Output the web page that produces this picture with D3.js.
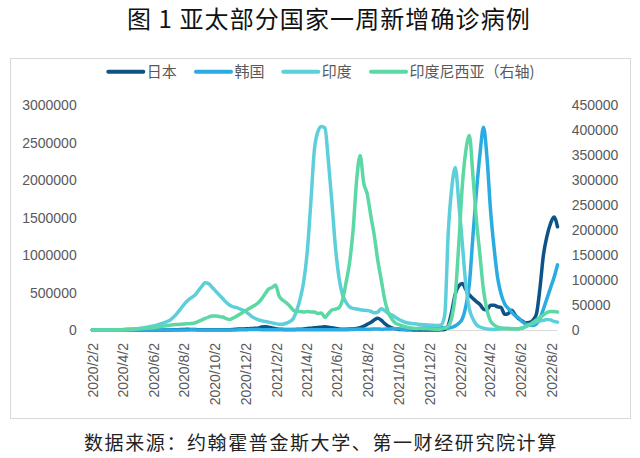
<!DOCTYPE html>
<html><head><meta charset="utf-8">
<script src="https://cdn.jsdelivr.net/npm/d3@7"></script>
<style>body{margin:0;background:#fff}</style>
</head><body>
<svg id="c" width="640" height="458" xmlns="http://www.w3.org/2000/svg"></svg>
<script>
// ---------- data ----------
const titleText = "图 1 亚太部分国家一周新增确诊病例";
const sourceText = "数据来源：约翰霍普金斯大学、第一财经研究院计算";
const seriesNames = ["日本", "韩国", "印度", "印度尼西亚（右轴)"];
const firstWeek = "2020/2/2"; // weekly data, one value per week
const tickLabels = ["2020/2/2","2020/4/2","2020/6/2","2020/8/2","2020/10/2","2020/12/2",
  "2021/2/2","2021/4/2","2021/6/2","2021/8/2","2021/10/2","2021/12/2",
  "2022/2/2","2022/4/2","2022/6/2","2022/8/2"];
const leftTicks = [0,500000,1000000,1500000,2000000,2500000,3000000];
const rightTicks = [0,50000,100000,150000,200000,250000,300000,350000,400000,450000];

const japan = [0,10,30,60,150,250,300,400,800,2000,3500,2800,1500,800,400,250,200,200,250,350,
  500,800,1300,2500,4000,5500,8000,8500,7500,6000,4500,3800,3500,3500,3800,3800,4000,4000,4500,5000,
  7500,11000,14000,15000,17000,19000,22000,25000,40000,45000,38000,28000,17000,11000,8500,7000,7000,8000,8500,10000,
  14000,19000,25000,30000,35000,37000,42000,38000,30000,21000,14000,11000,11000,12000,15000,21000,30000,50000,75000,100000,
  135000,156000,130000,85000,50000,28000,15000,8000,5000,3000,2000,1500,1300,1000,900,800,800,900,1200,2500,
  6000,60000,250000,480000,590000,620000,540000,470000,420000,380000,340000,280000,270000,330000,330000,310000,300000,210000,220000,265000,
  200000,150000,120000,95000,100000,130000,210000,550000,1000000,1250000,1420000,1510000,1380000];
const korea = [100,200,1000,3500,4000,1800,700,600,500,300,150,80,60,100,200,150,250,300,300,300,
  350,400,300,300,350,300,350,700,2000,2000,1300,900,700,500,500,500,500,600,700,800,
  900,1500,2500,3500,4500,6500,7500,7000,5000,4000,3000,3200,3000,2800,3200,2800,2700,3000,3000,3000,
  3400,4500,4500,4500,4500,3900,4200,4200,3800,3800,3800,3500,3500,5500,8000,9000,9500,10000,10000,11000,
  13000,12500,11000,12000,12000,16000,18000,15000,11000,10500,12000,16000,17000,22000,26000,32000,42000,48000,42000,35000,
  25000,25000,35000,55000,90000,150000,320000,620000,1250000,1850000,2350000,2710000,2300000,1600000,1100000,700000,480000,350000,290000,240000,
  190000,160000,110000,80000,65000,60000,80000,150000,280000,420000,560000,700000,870000];
const india = [0,0,0,0,30,40,80,400,1000,3000,5000,8000,11000,17000,25000,33000,42000,52000,62000,75000,
  90000,110000,130000,170000,220000,280000,340000,390000,430000,460000,520000,580000,630000,620000,570000,520000,470000,420000,370000,330000,
  310000,300000,280000,260000,230000,190000,160000,140000,125000,115000,105000,95000,85000,76000,78000,90000,110000,150000,260000,420000,
  650000,1050000,1700000,2400000,2650000,2720000,2700000,2250000,1700000,1100000,700000,470000,370000,310000,290000,280000,270000,265000,260000,250000,
  230000,240000,285000,260000,220000,200000,170000,140000,120000,100000,90000,85000,80000,75000,70000,68000,65000,62000,60000,70000,
  200000,1300000,1900000,2170000,1700000,1150000,600000,280000,150000,70000,40000,25000,15000,10000,8000,12000,17000,22000,22000,18000,
  16000,18000,25000,45000,75000,85000,110000,120000,130000,140000,135000,115000,105000];
const indonesia = [0,0,0,0,10,50,100,400,700,1300,2000,2000,2400,2500,2800,3500,3800,4200,5500,6500,
  7500,8500,9500,10500,11000,11500,12000,12500,13000,14000,17000,20000,23000,26000,28000,28000,27000,26000,23000,21000,
  24000,28000,32000,37000,41000,45000,49000,54000,62000,72000,82000,85000,90000,68000,60000,55000,48000,40000,37000,37000,
  36000,37000,36000,36000,33000,34000,25000,33000,40000,42000,45000,60000,95000,135000,200000,300000,350000,295000,273000,230000,
  190000,140000,100000,60000,35000,22000,14000,11000,8000,6000,4500,3500,3000,2800,2500,2300,2000,1500,1500,2000,
  4000,8000,25000,70000,173000,290000,360000,390000,310000,220000,150000,80000,40000,18000,10000,6000,4000,2500,2500,2000,
  2000,2500,4000,7000,10000,15000,20000,25000,30000,35000,37000,37000,36000];

const colors = ["#0e5386", "#2aabe2", "#5ccfdb", "#5cd8a4"];

// ---------- chart ----------
const svg = d3.select("#c");
svg.append("rect").attr("width",640).attr("height",458).attr("fill","#fff");
svg.append("rect").attr("x",10.5).attr("y",58.5).attr("width",620).attr("height",360)
  .attr("fill","none").attr("stroke","#d9d9d9").attr("stroke-width",1);

const parse = d3.timeParse("%Y/%m/%d");
const start = parse(firstWeek);
const dates = india.map((_, i) => d3.timeDay.offset(start, 7 * i));

const x = d3.scaleTime().domain([start, dates[dates.length - 1]]).range([92.3, 557.5]);
const yL = d3.scaleLinear().domain([0, 3000000]).range([330, 105.5]);
const yR = d3.scaleLinear().domain([0, 450000]).range([330, 105.5]);

const axisFont = "'Liberation Sans', Arial, sans-serif";
const cjk = "'Noto Sans CJK SC', sans-serif";
const grey = "#595959";

// baseline
svg.append("line").attr("x1", x.range()[0]).attr("x2", x.range()[1])
  .attr("y1", yL(0) + 0.5).attr("y2", yL(0) + 0.5).attr("stroke", "#d9d9d9").attr("stroke-width", 1);

// left axis
const gL = svg.append("g").attr("transform", `translate(${x.range()[0]},0)`)
  .call(d3.axisLeft(yL).tickValues(leftTicks).tickSize(0).tickPadding(15.6).tickFormat(d3.format("d")));
gL.select(".domain").remove();
gL.selectAll("text").attr("fill", grey).style("font-family", axisFont).style("font-size", "14px");

// right axis
const gR = svg.append("g").attr("transform", `translate(${x.range()[1]},0)`)
  .call(d3.axisRight(yR).tickValues(rightTicks).tickSize(0).tickPadding(14.2).tickFormat(d3.format("d")));
gR.select(".domain").remove();
gR.selectAll("text").attr("fill", grey).style("font-family", axisFont).style("font-size", "14px");

// x axis
const tickDates = tickLabels.map(parse);
const gX = svg.append("g").attr("transform", `translate(0,${yL(0)})`)
  .call(d3.axisBottom(x).tickValues(tickDates).tickSize(0).tickFormat((d, i) => tickLabels[i]));
gX.select(".domain").remove();
gX.selectAll("text").attr("fill", grey).style("font-family", axisFont).style("font-size", "14px")
  .attr("transform", "rotate(-90)").attr("text-anchor", "end")
  .attr("x", -13).attr("y", 0).attr("dy", "0.35em");

// lines
const series = [
  {name: seriesNames[0], values: japan, y: yL, color: colors[0]},
  {name: seriesNames[1], values: korea, y: yL, color: colors[1]},
  {name: seriesNames[2], values: india, y: yL, color: colors[2]},
  {name: seriesNames[3], values: indonesia, y: yR, color: colors[3]}
];
series.forEach(s => {
  const line = d3.line().x((d, i) => x(dates[i])).y(d => s.y(d)).curve(d3.curveMonotoneX);
  svg.append("path").datum(s.values).attr("d", line).attr("fill", "none")
    .attr("stroke", s.color).attr("stroke-width", 3.5)
    .attr("stroke-linejoin", "round").attr("stroke-linecap", "round");
});

// legend
const legendX = [108.3, 196, 283.3, 371];
const legendY = 71.7;
series.forEach((s, i) => {
  svg.append("line").attr("x1", legendX[i]).attr("x2", legendX[i] + 35)
    .attr("y1", legendY).attr("y2", legendY).attr("stroke", s.color)
    .attr("stroke-width", 4).attr("stroke-linecap", "round");
  svg.append("text").attr("x", legendX[i] + 38.5).attr("y", legendY).attr("dy", "0.35em")
    .attr("fill", grey).style("font-family", cjk).style("font-size", "15px").text(s.name);
});

// title and source
svg.append("text").attr("x", 127).attr("y", 28).attr("fill", "#111")
  .style("font-family", cjk).style("font-size", "24px").style("font-weight", "400")
  .style("letter-spacing", "1.1px").text(titleText);
svg.append("text").attr("x", 84).attr("y", 450).attr("fill", "#222")
  .style("font-family", cjk).style("font-size", "19px").style("letter-spacing", "1.6px").text(sourceText);
</script>
</body></html>
